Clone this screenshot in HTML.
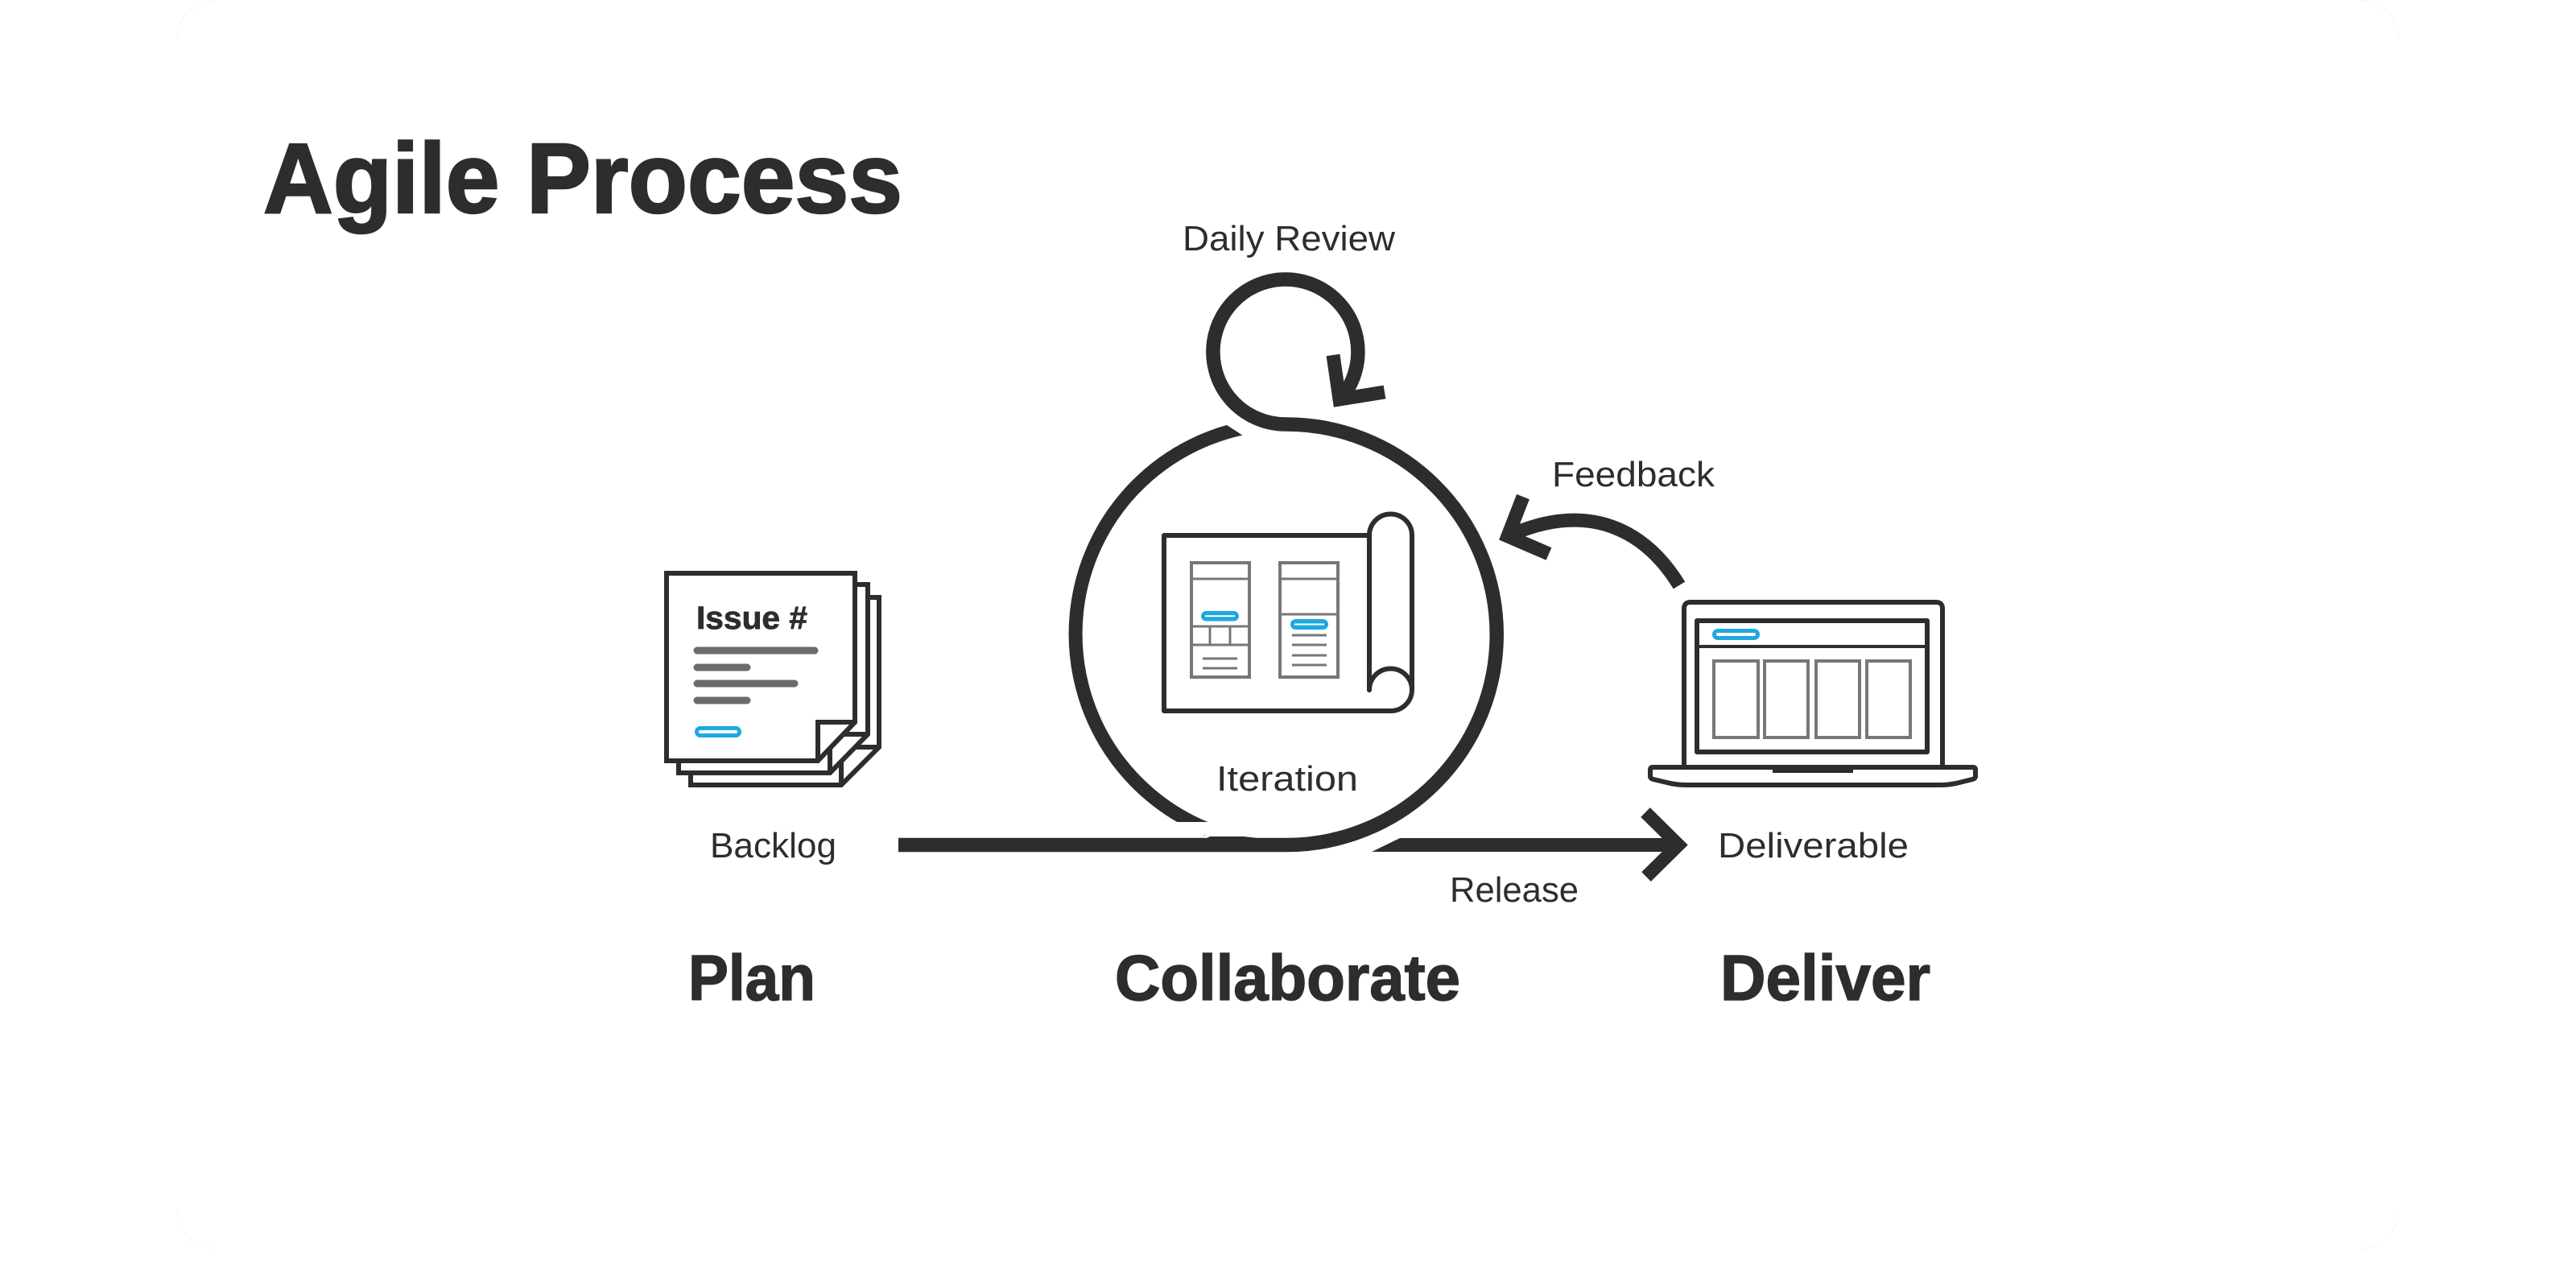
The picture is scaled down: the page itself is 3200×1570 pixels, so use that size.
<!DOCTYPE html>
<html>
<head>
<meta charset="utf-8">
<title>Agile Process</title>
<style>
html,body{margin:0;padding:0;background:#fff;width:3200px;height:1570px;overflow:hidden}
svg{display:block}
text{font-family:"Liberation Sans",sans-serif;fill:#2d2d2d}
.b{font-weight:700;stroke:#2d2d2d;stroke-width:1.5}
.t{font-weight:700;stroke:#2d2d2d;stroke-width:2.5}
</style>
</head>
<body>
<svg width="3200" height="1570" viewBox="0 0 3200 1570" xmlns="http://www.w3.org/2000/svg">
<rect x="0" y="0" width="3200" height="1570" fill="#fff"/>
<g fill="none" stroke="#e8e8e8" stroke-width="1" stroke-dasharray="2 4">
  <path d="M220.5 47 A47 47 0 0 1 267 0.5"/>
  <path d="M2932 0.5 A47 47 0 0 1 2979.5 47"/>
  <path d="M220.5 1503 A47 47 0 0 0 267 1550.5"/>
  <path d="M2932 1550.5 A47 47 0 0 0 2979.5 1503"/>
</g>

<text class="t" x="327" y="264" font-size="123" textLength="794" lengthAdjust="spacingAndGlyphs">Agile Process</text>
<text class="b" x="855" y="1242" font-size="80" textLength="158" lengthAdjust="spacingAndGlyphs">Plan</text>
<text class="b" x="1385" y="1242" font-size="80" textLength="429" lengthAdjust="spacingAndGlyphs">Collaborate</text>
<text class="b" x="2137" y="1242" font-size="80" textLength="261" lengthAdjust="spacingAndGlyphs">Deliver</text>

<text x="1469" y="311" font-size="44" textLength="264" lengthAdjust="spacingAndGlyphs">Daily Review</text>
<text x="1928" y="604" font-size="44" textLength="202" lengthAdjust="spacingAndGlyphs">Feedback</text>
<text x="1511" y="982" font-size="44" textLength="176" lengthAdjust="spacingAndGlyphs">Iteration</text>
<text x="882" y="1065" font-size="44" textLength="157" lengthAdjust="spacingAndGlyphs">Backlog</text>
<text x="2134" y="1065" font-size="44" textLength="237" lengthAdjust="spacingAndGlyphs">Deliverable</text>
<text x="1801" y="1120" font-size="44" textLength="160" lengthAdjust="spacingAndGlyphs">Release</text>

<!-- Big circle, left arc -->
<path d="M1560 529 A261.25 261.25 0 0 0 1500 1030" fill="none" stroke="#2d2d2d" stroke-width="17"/>
<polygon points="1524,528 1564,554 1580,530 1540,515" fill="#fff"/>
<rect x="1440" y="1021" width="90" height="16" fill="#fff"/>
<!-- Main line with big circle and loop -->
<path d="M1116 1049.5 H1598 A261.25 261.25 0 0 0 1598 527 A90 90 0 1 1 1664 497" fill="none" stroke="#2d2d2d" stroke-width="17.5"/>
<polygon points="1499,1041 1503,1039 1545,1039 1572,1042" fill="#2d2d2d"/>
<polyline points="1656,441 1664,496 1720,487" fill="none" stroke="#2d2d2d" stroke-width="17" stroke-miterlimit="10"/>
<!-- Release arrow -->
<polygon points="1704,1058 1739,1041 2085,1041 2085,1058" fill="#2d2d2d"/>
<polyline points="2044,1009 2085,1049.5 2045,1089" fill="none" stroke="#2d2d2d" stroke-width="16.5" stroke-miterlimit="10"/>
<!-- Feedback arrow -->
<path d="M2086 727 C2045 660 1975 620 1873 666" fill="none" stroke="#2d2d2d" stroke-width="17"/>
<polyline points="1892,617 1873,666 1924,688" fill="none" stroke="#2d2d2d" stroke-width="17" stroke-miterlimit="10"/>

<!-- Backlog sheets (drawn back to front) -->
<g fill="#fff" stroke="#2d2d2d" stroke-width="6" stroke-miterlimit="10">
  <path d="M858 742 H1092 V928 L1045 975 H858 Z"/>
  <path d="M1045 975 V928 H1092" fill="none"/>
  <path d="M843 726 H1078 V912 L1031 960 H843 Z"/>
  <path d="M1031 960 V912 H1078" fill="none"/>
  <path d="M828 712 H1062 V897 L1016 945 H828 Z"/>
  <path d="M1016 945 V897 H1062" fill="none"/>
</g>
<text x="865" y="781" font-size="40" font-weight="700" stroke="#2d2d2d" stroke-width="0.8" textLength="138" lengthAdjust="spacingAndGlyphs">Issue #</text>
<g stroke="#6b6b6b" stroke-width="9" stroke-linecap="round" fill="none">
  <path d="M866 808 H1012"/>
  <path d="M866 829 H928"/>
  <path d="M866 849 H987"/>
  <path d="M866 870 H928"/>
</g>
<rect x="865.5" y="904.5" width="53" height="9" rx="4.5" fill="none" stroke="#1fa8e0" stroke-width="5"/>

<!-- Blueprint -->
<g fill="none" stroke="#2d2d2d" stroke-width="6" stroke-linecap="round" stroke-linejoin="round">
  <path d="M1701 665 H1446 V883 H1728 A26.5 26.5 0 0 0 1754 857 V665 A26.5 26.5 0 0 0 1701 665 V857"/>
  <path d="M1701 857 A26.5 26.5 0 0 1 1754 857"/>
</g>
<g fill="none" stroke="#777" stroke-width="4">
  <rect x="1480" y="699" width="72" height="142"/>
  <rect x="1590" y="699" width="72" height="142"/>
  <path d="M1480 719 H1552 M1480 778 H1552 M1480 801 H1552 M1503 778 V801 M1528 778 V801" stroke-width="3"/>
  <path d="M1590 719 H1662 M1590 763 H1662" stroke-width="3"/>
  <path d="M1494 818 H1537 M1494 830 H1537 M1605 789 H1648 M1605 801 H1648 M1605 814 H1648 M1605 826 H1648" stroke-width="3"/>
</g>
<rect x="1492" y="759" width="47" height="12.5" rx="6.25" fill="#1fa8e0"/>
<rect x="1497" y="764.2" width="37" height="2" fill="#fff"/>
<rect x="1603" y="769" width="47" height="13" rx="6.5" fill="#1fa8e0"/>
<rect x="1608" y="774.5" width="37" height="2" fill="#fff"/>

<!-- Laptop -->
<g fill="none" stroke="#2d2d2d" stroke-width="6" stroke-linejoin="round">
  <path d="M2092 953 V756 Q2092 748 2100 748 H2405 Q2413 748 2413 756 V953"/>
  <rect x="2108" y="771" width="286" height="163"/>
  <path d="M2108 803 H2394" stroke-width="4"/>
  <path d="M2053 953 H2451 Q2454 953 2454 956 V964 Q2454 967 2450 968 L2430 973 Q2420 975 2410 975 H2095 Q2085 975 2075 973 L2054 968 Q2050 967 2050 964 V956 Q2050 953 2053 953 Z"/>
</g>
<rect x="2202" y="953" width="100" height="7" fill="#2d2d2d"/>
<rect x="2129.5" y="783.5" width="54" height="9" rx="4.5" fill="none" stroke="#1fa8e0" stroke-width="5"/>
<g fill="none" stroke="#777" stroke-width="4">
  <rect x="2129" y="821" width="55" height="95"/>
  <rect x="2192" y="821" width="54" height="95"/>
  <rect x="2256" y="821" width="54" height="95"/>
  <rect x="2319" y="821" width="54" height="95"/>
</g>
</svg>
</body>
</html>
